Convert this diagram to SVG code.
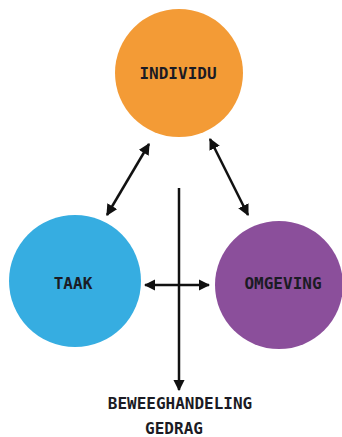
<svg xmlns="http://www.w3.org/2000/svg" width="342" height="437" viewBox="0 0 342 437">
<style>
.lbl{font-family:"DejaVu Sans Mono","Liberation Mono",monospace;font-weight:bold;font-size:16px;fill:#1b1b24;text-anchor:middle;dominant-baseline:central}
.ln{stroke:#111;stroke-width:2.5;fill:none}
</style>
<defs>
<marker id="ah" viewBox="0 0 10 10" refX="9" refY="5" markerWidth="4.6" markerHeight="4.6" orient="auto-start-reverse" markerUnits="strokeWidth">
<path d="M0,0 L10,5 L0,10 Z" fill="#111"/>
</marker>
</defs>
<rect width="342" height="437" fill="#fff"/>
<g id="individu"><circle cx="179" cy="73" r="64" fill="#F39B36"/><text class="lbl" x="178" y="73">INDIVIDU</text></g>
<g id="taak"><circle cx="75" cy="281" r="66" fill="#36ADE1"/><text class="lbl" x="73" y="283">TAAK</text></g>
<g id="omgeving"><circle cx="279" cy="285" r="64" fill="#8B4F9B"/><text class="lbl" x="283" y="283">OMGEVING</text></g>
<g id="connectors">
<line class="ln" x1="107" y1="215" x2="149" y2="144" marker-start="url(#ah)" marker-end="url(#ah)"/>
<line class="ln" x1="248" y1="215" x2="210" y2="139" marker-start="url(#ah)" marker-end="url(#ah)"/>
<line class="ln" x1="145" y1="285" x2="209" y2="285" marker-start="url(#ah)" marker-end="url(#ah)"/>
<line class="ln" x1="179" y1="188" x2="179" y2="390" marker-end="url(#ah)"/>
</g>
<g id="gedrag"><text class="lbl" x="180" y="403">BEWEEGHANDELING</text><text class="lbl" x="174" y="428">GEDRAG</text></g>
</svg>
